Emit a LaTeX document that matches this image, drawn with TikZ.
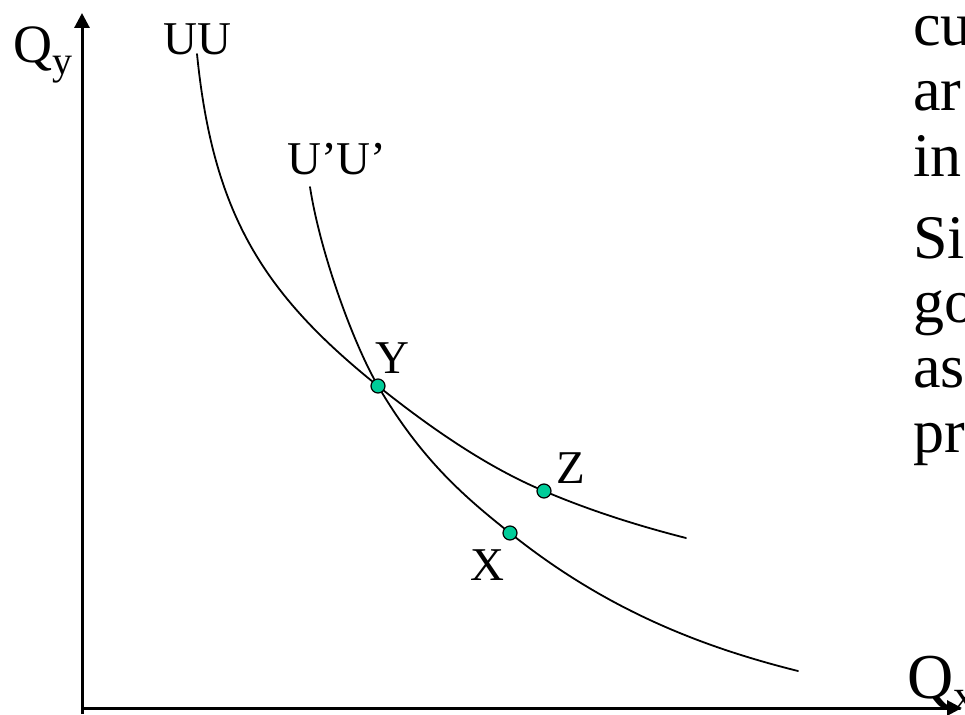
\documentclass[tikz,border=0pt]{standalone}
\usepackage{fontspec}
\setmainfont{Liberation Serif}
\usepackage{tikz}
\usetikzlibrary{arrows.meta}
\definecolor{dotgreen}{HTML}{00CC99}
\tikzset{
  axis/.style={line width=3pt,-{Triangle[length=15pt,width=15pt]}},
  ucurve/.style={line width=1.8pt,line cap=round},
  pt/.style={circle,draw=black,line width=1.2pt,fill=dotgreen,inner sep=0pt,minimum size=14pt},
  lbl/.style={font=\fontsize{47}{56}\selectfont,anchor=base west,inner sep=0pt},
  side/.style={font=\fontsize{62}{70}\selectfont,anchor=base west,inner sep=0pt},
}

\begin{document}
\begin{tikzpicture}[x=1pt,y=-1pt]
    \useasboundingbox (0,0) rectangle (965,714);
    \clip (0,0) rectangle (965,714);
    % axes
    \draw[axis] (82,714) -- (82,13);
    \draw[axis] (82,708) -- (962,708);
    \node[anchor=base west,inner sep=0pt,font=\fontsize{54}{60}\selectfont] (qy) at (13,63)
      {Q{\fontsize{40}{44}\selectfont\raisebox{-12pt}{y}}};
    \node[anchor=base west,inner sep=0pt,font=\fontsize{64}{70}\selectfont] (qx) at (907,698)
      {Q{\fontsize{44}{48}\selectfont\raisebox{-12pt}{x}}};
    % bundle points
    \coordinate (pY) at (378,386);
    \coordinate (pZ) at (544,491);
    \coordinate (pX) at (510,533);
    % indifference curves
    \draw[ucurve] (197,54) .. controls (213,213) and (262,293) .. (pY)
      .. controls (433,430) and (489,468) .. (pZ)
      .. controls (591,511) and (639,526) .. (686,538);
    \draw[ucurve] (310,187) .. controls (320,252) and (353,343) .. (pY)
      .. controls (422,461) and (466,498) .. (pX)
      .. controls (606,610) and (702,647) .. (798,671);
    \node[lbl] (uu) at (163,55) {UU};
    \node[lbl] (uu2) at (287,175) {U’U’};
    % points
    \node[pt] (Y) at (pY) {};
    \node[pt] (Z) at (pZ) {};
    \node[pt] (X) at (pX) {};
    \node[lbl,anchor=base] (ylab) at (392,373) {Y};
    \node[lbl,anchor=base] (zlab) at (571,483) {Z};
    \node[lbl,anchor=base] (xlab) at (487,580) {X};
    % text at the right edge
    \foreach \t/\yy [count=\i] in {cu/46, ar/111, in/176, Si/258, go/322, as/387, pr/452}
      \node[side] (txt\i) at (913,\yy) {\t};
\end{tikzpicture}
\end{document}
